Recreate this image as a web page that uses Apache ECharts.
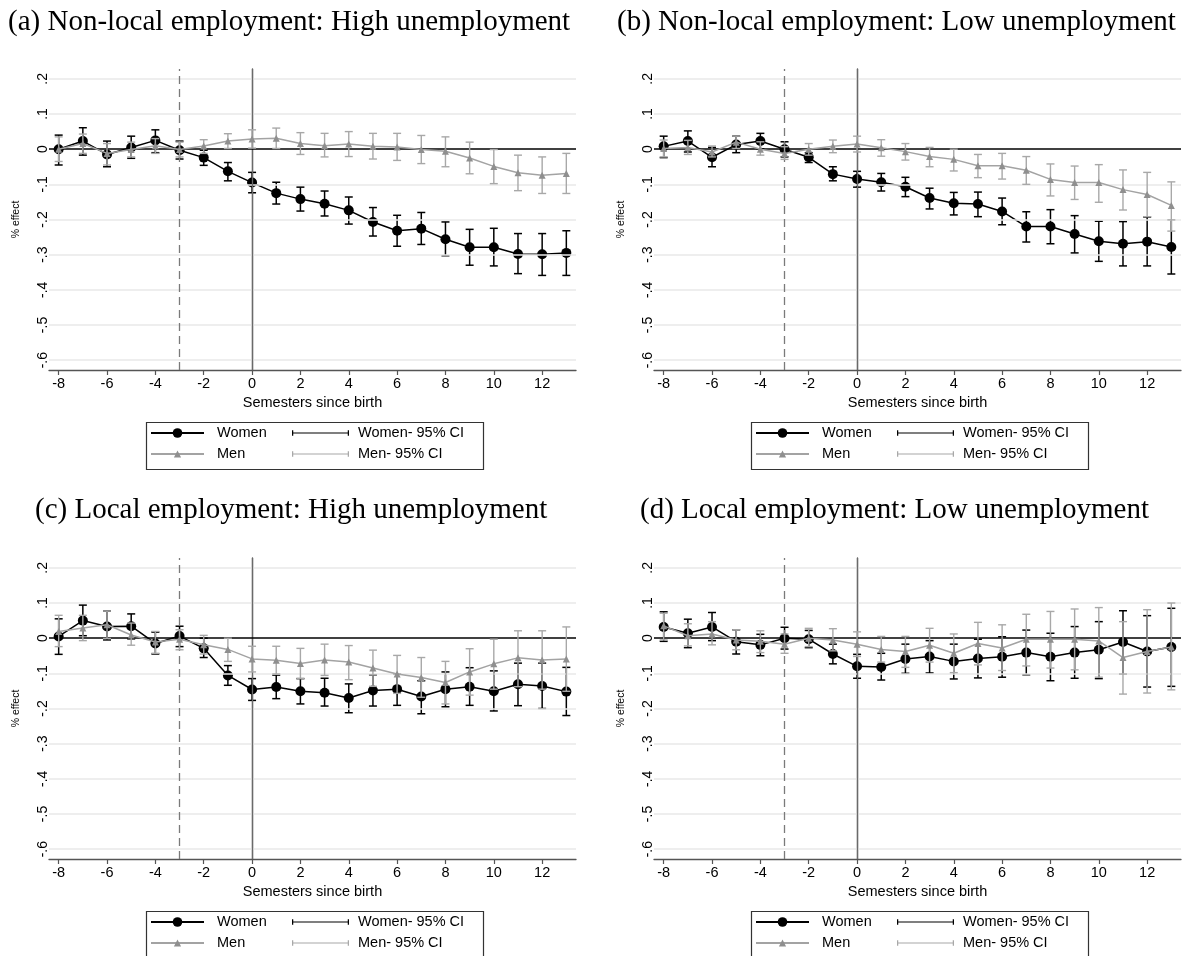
<!DOCTYPE html>
<html>
<head>
<meta charset="utf-8">
<script src="https://cdn.jsdelivr.net/npm/echarts@6/dist/echarts.min.js"></script>
<style>
html,body{margin:0;padding:0;background:#fff;}
#chart{width:1188px;height:956px;}
</style>
</head>
<body>
<div id="chart"></div>
<script>
// ---------------- DATA ----------------
const semesters = [-8,-7,-6,-5,-4,-3,-2,-1,0,1,2,3,4,5,6,7,8,9,10,11,12,13];
const xTicks = [-8,-6,-4,-2,0,2,4,6,8,10,12];
const yTicks = [-0.6,-0.5,-0.4,-0.3,-0.2,-0.1,0,0.1,0.2];
const yTickLabels = ['-.6','-.5','-.4','-.3','-.2','-.1','0','.1','.2'];
const eventLine = -3;
const panelTitles = [
  '(a) Non-local employment: High unemployment',
  '(b) Non-local employment: Low unemployment',
  '(c) Local employment: High unemployment',
  '(d) Local employment: Low unemployment'
];

// (a) Non-local, high unemployment
const womenA    = [0,0.023,-0.015,0.005,0.025,-0.003,-0.024,-0.063,-0.095,-0.125,-0.142,-0.155,-0.174,-0.207,-0.232,-0.226,-0.256,-0.279,-0.279,-0.298,-0.299,-0.295];
const womenA_lo = [-0.045,-0.017,-0.05,-0.026,-0.01,-0.028,-0.046,-0.09,-0.124,-0.156,-0.176,-0.19,-0.213,-0.247,-0.276,-0.271,-0.303,-0.33,-0.332,-0.354,-0.359,-0.359];
const womenA_hi = [0.04,0.061,0.023,0.037,0.055,0.023,-0.003,-0.038,-0.066,-0.094,-0.108,-0.119,-0.136,-0.166,-0.188,-0.18,-0.207,-0.228,-0.225,-0.24,-0.24,-0.232];
const menA      = [0,0.016,-0.012,-0.001,0.01,-0.001,0.009,0.023,0.029,0.031,0.016,0.01,0.015,0.008,0.006,-0.001,-0.006,-0.025,-0.049,-0.067,-0.074,-0.069];
const menA_lo   = [-0.035,-0.012,-0.045,-0.022,-0.012,-0.022,-0.012,0.002,0.003,0.002,-0.015,-0.022,-0.021,-0.028,-0.032,-0.041,-0.05,-0.07,-0.098,-0.118,-0.126,-0.126];
const menA_hi   = [0.035,0.043,0.016,0.02,0.03,0.02,0.027,0.044,0.055,0.06,0.047,0.045,0.05,0.045,0.045,0.039,0.035,0.02,-0.001,-0.017,-0.022,-0.012];

// (b) Non-local, low unemployment
const womenB    = [0.008,0.023,-0.023,0.013,0.023,0,-0.023,-0.071,-0.085,-0.094,-0.107,-0.139,-0.154,-0.156,-0.177,-0.22,-0.22,-0.241,-0.262,-0.269,-0.263,-0.278];
const womenB_lo = [-0.024,-0.008,-0.05,-0.01,0.001,-0.022,-0.038,-0.09,-0.108,-0.119,-0.135,-0.17,-0.187,-0.192,-0.215,-0.264,-0.269,-0.295,-0.319,-0.332,-0.332,-0.355];
const womenB_hi = [0.037,0.052,0.005,0.037,0.045,0.021,-0.01,-0.05,-0.063,-0.069,-0.08,-0.111,-0.123,-0.122,-0.139,-0.178,-0.172,-0.189,-0.205,-0.206,-0.193,-0.201];
const menB      = [0.002,0.005,-0.008,0.02,0,-0.012,0,0.008,0.015,0.004,-0.007,-0.021,-0.029,-0.047,-0.047,-0.06,-0.086,-0.095,-0.095,-0.115,-0.129,-0.16];
const menB_lo   = [-0.022,-0.015,-0.022,0.002,-0.017,-0.029,-0.017,-0.01,-0.008,-0.02,-0.031,-0.05,-0.062,-0.081,-0.085,-0.1,-0.133,-0.143,-0.151,-0.173,-0.192,-0.233];
const menB_hi   = [0.026,0.025,0.009,0.037,0.021,0.007,0.016,0.026,0.037,0.027,0.016,0.005,0,-0.015,-0.012,-0.021,-0.042,-0.048,-0.044,-0.059,-0.066,-0.093];

// (c) Local, high unemployment
const womenC    = [0.005,0.05,0.033,0.034,-0.015,0.006,-0.029,-0.106,-0.146,-0.139,-0.151,-0.155,-0.17,-0.149,-0.145,-0.166,-0.145,-0.138,-0.151,-0.131,-0.136,-0.152];
const womenC_lo = [-0.046,0.007,-0.005,-0.002,-0.045,-0.024,-0.055,-0.134,-0.177,-0.172,-0.187,-0.193,-0.212,-0.193,-0.191,-0.215,-0.195,-0.191,-0.207,-0.192,-0.2,-0.22];
const womenC_hi = [0.055,0.094,0.077,0.069,0.017,0.034,0,-0.078,-0.115,-0.105,-0.115,-0.114,-0.13,-0.104,-0.102,-0.121,-0.096,-0.084,-0.093,-0.071,-0.071,-0.083];
const menC      = [0.019,0.029,0.038,0.009,-0.011,-0.003,-0.019,-0.032,-0.059,-0.063,-0.072,-0.062,-0.068,-0.085,-0.102,-0.112,-0.126,-0.096,-0.073,-0.056,-0.062,-0.059];
const menC_lo   = [-0.024,-0.007,-0.001,-0.02,-0.043,-0.033,-0.045,-0.066,-0.096,-0.102,-0.115,-0.106,-0.118,-0.137,-0.157,-0.168,-0.187,-0.162,-0.145,-0.138,-0.145,-0.151];
const menC_hi   = [0.065,0.065,0.077,0.043,0.019,0.024,0.008,0,-0.023,-0.023,-0.029,-0.017,-0.021,-0.034,-0.049,-0.055,-0.066,-0.03,-0.003,0.021,0.021,0.032];

// (d) Local, low unemployment
const womenD    = [0.032,0.014,0.032,-0.01,-0.019,0,-0.003,-0.045,-0.08,-0.082,-0.059,-0.052,-0.066,-0.058,-0.053,-0.041,-0.053,-0.041,-0.033,-0.011,-0.038,-0.025];
const womenD_lo = [-0.009,-0.027,-0.007,-0.045,-0.05,-0.031,-0.027,-0.073,-0.114,-0.119,-0.1,-0.099,-0.116,-0.113,-0.111,-0.104,-0.121,-0.114,-0.115,-0.102,-0.139,-0.137];
const womenD_hi = [0.075,0.054,0.073,0.024,0.011,0.031,0.022,-0.017,-0.046,-0.043,-0.017,-0.007,-0.017,-0.003,0.004,0.023,0.014,0.033,0.047,0.078,0.064,0.085];
const menD      = [0.035,0.007,0.012,-0.005,-0.009,-0.017,0,-0.005,-0.017,-0.032,-0.038,-0.02,-0.043,-0.015,-0.028,-0.003,-0.003,-0.003,-0.008,-0.055,-0.038,-0.025];
const menD_lo   = [-0.005,-0.022,-0.019,-0.033,-0.041,-0.043,-0.024,-0.036,-0.052,-0.068,-0.083,-0.068,-0.098,-0.076,-0.092,-0.079,-0.085,-0.09,-0.111,-0.159,-0.156,-0.147];
const menD_hi   = [0.071,0.041,0.047,0.024,0.021,0.012,0.028,0.027,0.018,0.005,0.005,0.028,0.012,0.045,0.038,0.068,0.076,0.083,0.087,0.047,0.081,0.1];

// ---------------- LAYOUT / STYLE ----------------
const panels = [
  {title: panelTitles[0], tl: 8,   tt: 8,   gx: 49,  gy: 69,  women: womenA, wlo: womenA_lo, whi: womenA_hi, men: menA, mlo: menA_lo, mhi: menA_hi},
  {title: panelTitles[1], tl: 617, tt: 8,   gx: 654, gy: 69,  women: womenB, wlo: womenB_lo, whi: womenB_hi, men: menB, mlo: menB_lo, mhi: menB_hi},
  {title: panelTitles[2], tl: 35,  tt: 496, gx: 49,  gy: 558, women: womenC, wlo: womenC_lo, whi: womenC_hi, men: menC, mlo: menC_lo, mhi: menC_hi},
  {title: panelTitles[3], tl: 640, tt: 496, gx: 654, gy: 558, women: womenD, wlo: womenD_lo, whi: womenD_hi, men: menD, mlo: menD_lo, mhi: menD_hi}
];
const GW = 527, GH = 301;
const SANS = 'Liberation Sans';
const BLACK = '#000000', GRAY_LINE = '#a3a3a3', GRAY_MARK = '#8f8f8f', GRAY_CI = '#a8a8a8';
const ciIcon = 'path://M0,0H2.2V4.2H97.8V0H100V10H97.8V5.8H2.2V10H0Z';

function ciRender(color, width) {
  return function (params, api) {
    const x = api.value(0), lo = api.value(1), hi = api.value(2);
    const a = api.coord([x, lo]), b = api.coord([x, hi]);
    const st = {stroke: color, lineWidth: width};
    const c = 4;
    return {type: 'group', children: [
      {type: 'line', shape: {x1: a[0], y1: a[1], x2: b[0], y2: b[1]}, style: st},
      {type: 'line', shape: {x1: a[0] - c, y1: a[1], x2: a[0] + c, y2: a[1]}, style: st},
      {type: 'line', shape: {x1: b[0] - c, y1: b[1], x2: b[0] + c, y2: b[1]}, style: st}
    ]};
  };
}
function yLabel(v) {
  let best = 0;
  for (let i = 0; i < yTicks.length; i++) if (Math.abs(yTicks[i] - v) < Math.abs(yTicks[best] - v)) best = i;
  return yTickLabels[best];
}

const option = {
  animation: false,
  backgroundColor: '#ffffff',
  title: [], grid: [], xAxis: [], yAxis: [], series: [], legend: [], graphic: []
};

panels.forEach((p, i) => {
  option.title.push({
    text: p.title, left: p.tl, top: p.tt, padding: 0,
    textStyle: {fontFamily: 'Liberation Serif', fontSize: 29, fontWeight: 'normal', color: '#000'}
  });
  option.grid.push({left: p.gx, top: p.gy, width: GW, height: GH, containLabel: false});
  option.xAxis.push({
    type: 'value', gridIndex: i, min: -8.4, max: 13.4,
    name: 'Semesters since birth', nameLocation: 'middle', nameGap: 25,
    nameTextStyle: {fontFamily: SANS, fontSize: 14.5, color: '#000'},
    axisLine: {show: true, onZero: false, lineStyle: {color: '#555', width: 1.3}},
    axisTick: {show: true, length: 5, lineStyle: {color: '#555', width: 1.2}, customValues: xTicks},
    axisLabel: {fontFamily: SANS, fontSize: 14.5, color: '#000', margin: 6, customValues: xTicks},
    splitLine: {show: false}
  });
  option.yAxis.push({
    type: 'value', gridIndex: i, min: -0.628, max: 0.228,
    name: '% effect', nameLocation: 'middle', nameGap: 27, nameRotate: 90,
    nameTextStyle: {fontFamily: SANS, fontSize: 10.5, color: '#000'},
    axisLine: {show: true, lineStyle: {color: '#555', width: 1.3}},
    axisTick: {show: false, customValues: yTicks},
    axisLabel: {fontFamily: SANS, fontSize: 14, color: '#000', rotate: 90, margin: -1,
      customValues: yTicks, formatter: yLabel},
    splitLine: {show: false}
  });
  const ml = [];
  yTicks.forEach(v => { if (v !== 0) ml.push({yAxis: v, lineStyle: {color: '#e9e9e9', width: 1.5, type: 'solid'}}); });
  ml.push({xAxis: eventLine, lineStyle: {color: '#7a7a7a', width: 1.3, type: [8, 5]}});
  ml.push({xAxis: 0, lineStyle: {color: '#6a6a6a', width: 1.3, type: 'solid'}});
  ml.push({yAxis: 0, lineStyle: {color: '#000', width: 1.5, type: 'solid'}});
  option.series.push({
    type: 'line', name: 'ref' + i, xAxisIndex: i, yAxisIndex: i, data: [], z: 1, silent: true,
    markLine: {silent: true, symbol: ['none', 'none'], label: {show: false}, animation: false, data: ml}
  });
  option.series.push({
    type: 'custom', name: 'Women- 95% CI', xAxisIndex: i, yAxisIndex: i, z: 3,
    itemStyle: {color: BLACK},
    encode: {x: 0, y: [1, 2]},
    data: semesters.map((s, k) => [s, p.wlo[k], p.whi[k]]),
    renderItem: ciRender(BLACK, 1.5)
  });
  option.series.push({
    type: 'line', name: 'Women', xAxisIndex: i, yAxisIndex: i, z: 4,
    symbol: 'circle', symbolSize: 10,
    itemStyle: {color: BLACK}, lineStyle: {color: BLACK, width: 1.5},
    data: semesters.map((s, k) => [s, p.women[k]])
  });
  option.series.push({
    type: 'custom', name: 'Men- 95% CI', xAxisIndex: i, yAxisIndex: i, z: 5,
    itemStyle: {color: GRAY_CI},
    encode: {x: 0, y: [1, 2]},
    data: semesters.map((s, k) => [s, p.mlo[k], p.mhi[k]]),
    renderItem: ciRender(GRAY_CI, 1.4)
  });
  option.series.push({
    type: 'line', name: 'Men', xAxisIndex: i, yAxisIndex: i, z: 6,
    symbol: 'triangle', symbolSize: 7,
    itemStyle: {color: GRAY_MARK}, lineStyle: {color: GRAY_LINE, width: 1.5},
    data: semesters.map((s, k) => [s, p.men[k]])
  });

  // legend
  const ox = p.gx - 49, oy = p.gy - 69;
  const lt = {fontFamily: SANS, fontSize: 14.5, color: '#000', lineHeight: 16};
  option.legend.push({data: ['Women'], left: 150 + ox, top: 425 + oy, padding: 0, itemWidth: 53, itemHeight: 12,
    selectedMode: false, textStyle: Object.assign({padding: [0, 0, 0, 8]}, lt)});
  option.legend.push({data: ['Men'], left: 150 + ox, top: 446 + oy, padding: 0, itemWidth: 53, itemHeight: 9,
    selectedMode: false, textStyle: Object.assign({padding: [0, 0, 0, 8]}, lt)});
  option.legend.push({data: [{name: 'Women- 95% CI', icon: ciIcon}], left: 292 + ox, top: 425 + oy, padding: 0,
    itemWidth: 57, itemHeight: 7, selectedMode: false, textStyle: Object.assign({padding: [0, 0, 0, 4]}, lt)});
  option.legend.push({data: [{name: 'Men- 95% CI', icon: ciIcon}], left: 292 + ox, top: 446 + oy, padding: 0,
    itemWidth: 57, itemHeight: 7, selectedMode: false, textStyle: Object.assign({padding: [0, 0, 0, 4]}, lt)});
  option.graphic.push({type: 'rect', left: 144 + ox, top: 420 + oy, silent: true,
    shape: {width: 337, height: 47}, style: {fill: 'none', stroke: '#333', lineWidth: 1.2}});
});

const chart = echarts.init(document.getElementById('chart'), null, {renderer: 'canvas'});
chart.setOption(option);
</script>
</body>
</html>
